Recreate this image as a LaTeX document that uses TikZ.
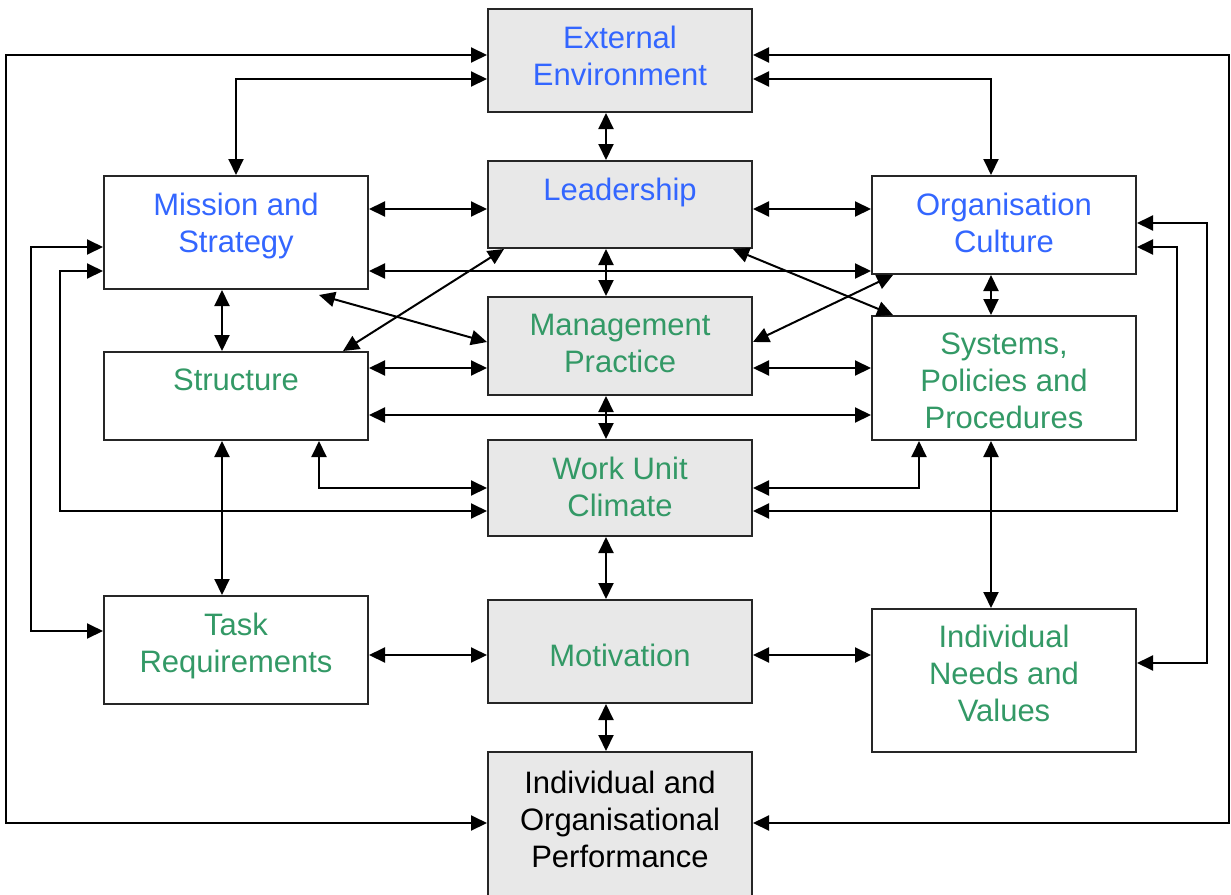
\documentclass[tikz,border=0pt]{standalone}
\usepackage{fontspec}
\setmainfont{Liberation Sans}
\usetikzlibrary{positioning}
\usetikzlibrary{arrows.meta}
\definecolor{tblue}{HTML}{3366FF}
\definecolor{tgreen}{HTML}{339966}
\definecolor{boxgray}{HTML}{E8E8E8}
\tikzset{
	box/.style={draw=black!85, line width=2pt, minimum width=264pt, anchor=north west, inner sep=0pt},
	gbox/.style={box, fill=boxgray},
	txt/.style={font=\fontsize{31}{37}\selectfont, align=center, inner sep=0pt},
	link/.style={line width=2pt, {Triangle[length=16pt,width=15pt]}-{Triangle[length=16pt,width=15pt]}}
}

\begin{document}
\begin{tikzpicture}[x=1pt,y=-1pt]
				\useasboundingbox (0,0) rectangle (1231,894);
				\clip (0,0) rectangle (1231,894);
				%Nodes
				\node[gbox, minimum height=103pt] (ee)   at (487,8)   {};
				\node[gbox, minimum height=87pt]  (lead) at (487,160) {};
				\node[gbox, minimum height=98pt]  (mgmt) at (487,296) {};
				\node[gbox, minimum height=96pt]  (work) at (487,439) {};
				\node[gbox, minimum height=103pt] (mot)  at (487,599) {};
				\node[gbox, minimum height=170pt] (perf) at (487,751) {};
				\node[box, minimum height=113pt]  (mis)  at (103,175) {};
				\node[box, minimum height=88pt]   (str)  at (103,351) {};
				\node[box, minimum height=108pt]  (task) at (103,595) {};
				\node[box, minimum height=98pt]   (oc)   at (871,175) {};
				\node[box, minimum height=124pt]  (sys)  at (871,315) {};
				\node[box, minimum height=143pt]  (ind)  at (871,608) {};

				%Labels
				\node[txt, text=tblue, below=18pt of ee.north]    (eel)   {External\\Environment};
				\node[txt, text=tblue, below=18pt of lead.north]  (leadl) {Leadership};
				\node[txt, text=tgreen, below=18pt of mgmt.north] (mgmtl) {Management\\Practice};
				\node[txt, text=tgreen, below=18pt of work.north] (workl) {Work Unit\\Climate};
				\node[txt, text=tgreen, anchor=north, yshift=8pt] (motl) at (mot.center) {Motivation};
				\node[txt, text=black, below=20pt of perf.north]  (perfl) {Individual and\\Organisational\\Performance};
				\node[txt, text=tblue, below=18pt of mis.north]   (misl)  {Mission and\\Strategy};
				\node[txt, text=tgreen, below=18pt of str.north]  (strl)  {Structure};
				\node[txt, text=tgreen, below=18pt of task.north] (taskl) {Task\\Requirements};
				\node[txt, text=tblue, below=18pt of oc.north]    (ocl)   {Organisation\\Culture};
				\node[txt, text=tgreen, below=18pt of sys.north]  (sysl)  {Systems,\\Policies and\\Procedures};
				\node[txt, text=tgreen, below=17pt of ind.north]  (indl)  {Individual\\Needs and\\Values};

				%Routing coordinates
				\coordinate (cx)  at (606,0);
				\coordinate (lx)  at (222,0);
				\coordinate (rx)  at (991,0);
				\coordinate (ox1) at (6,0);
				\coordinate (ox2) at (1229,0);
				\coordinate (lx1) at (31,0);
				\coordinate (lx2) at (60,0);
				\coordinate (rx1) at (1207,0);
				\coordinate (rx2) at (1177,0);
				\coordinate (sx)  at (319,0);
				\coordinate (px)  at (919,0);
				\coordinate (d1)  at (319,295);

				%Lines
				\draw[link] (ee.south -| cx) -- (lead.north -| cx);
				\draw[link] (lead.south -| cx) -- (mgmt.north -| cx);
				\draw[link] (mgmt.south -| cx) -- (work.north -| cx);
				\draw[link] (work.south -| cx) -- (mot.north -| cx);
				\draw[link] (mot.south -| cx) -- (perf.north -| cx);

				\draw[link] (ee.west |- 0,55) -| (ox1 |- 0,823) -- (perf.west |- 0,823);
				\draw[link] (ee.east |- 0,55) -| (ox2 |- 0,823) -- (perf.east |- 0,823);
				\draw[link] (mis.north) |- (ee.west |- 0,79);
				\draw[link] (oc.north -| rx) |- (ee.east |- 0,79);

				\draw[link] (mis.east |- 0,209) -- (lead.west |- 0,209);
				\draw[link] (lead.east |- 0,209) -- (oc.west |- 0,209);
				\draw[link] (mis.east |- 0,271) -- (oc.west |- 0,271);
				\draw[link] (mis.west |- 0,247) -| (lx1 |- 0,631) -- (task.west |- 0,631);
				\draw[link] (mis.west |- 0,271) -| (lx2 |- 0,511) -- (work.west |- 0,511);
				\draw[link] (mis.south -| lx) -- (str.north -| lx);
				\draw[link] (d1) -- (mgmt.west |- 0,342);
				\draw[link] (str.north -| 343,0) -- (lead.south -| 504,0);

				\draw[link] (str.east |- 0,368) -- (mgmt.west |- 0,368);
				\draw[link] (str.east |- 0,415) -- (sys.west |- 0,415);
				\draw[link] (str.south -| sx) |- (work.west |- 0,488);
				\draw[link] (str.south -| lx) -- (task.north -| lx);
				\draw[link] (task.east |- 0,655) -- (mot.west |- 0,655);

				\draw[link] (oc.east |- 0,223) -| (rx1 |- 0,663) -- (ind.east |- 0,663);
				\draw[link] (oc.east |- 0,247) -| (rx2 |- 0,511) -- (work.east |- 0,511);
				\draw[link] (oc.south -| 893,0) -- (mgmt.east |- 0,342);
				\draw[link] (lead.south -| 733,0) -- (sys.north -| 893,0);
				\draw[link] (oc.south -| rx) -- (sys.north -| rx);

				\draw[link] (mgmt.east |- 0,368) -- (sys.west |- 0,368);
				\draw[link] (sys.south -| px) |- (work.east |- 0,488);
				\draw[link] (sys.south -| rx) -- (ind.north -| rx);
				\draw[link] (mot.east |- 0,655) -- (ind.west |- 0,655);
		\end{tikzpicture}
\end{document}
